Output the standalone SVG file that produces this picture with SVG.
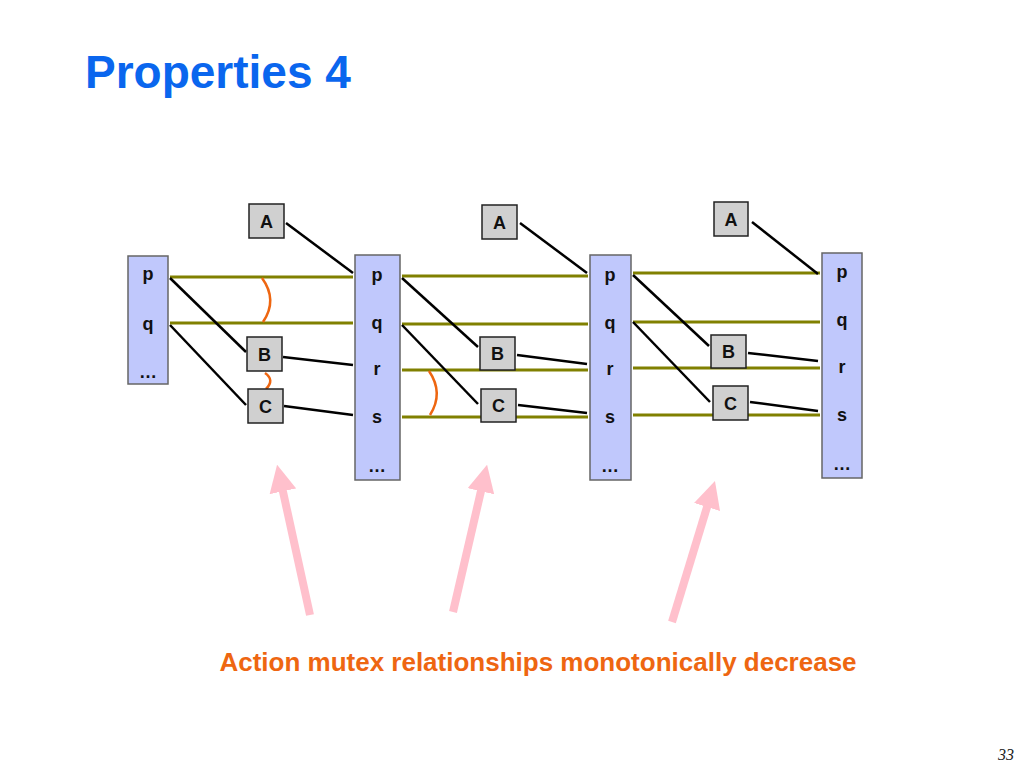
<svg xmlns="http://www.w3.org/2000/svg" width="1024" height="768" viewBox="0 0 1024 768">
<style>
.col{fill:#c0c8fc;stroke:#666;stroke-width:1.5}
.act{fill:#d0d0d0;stroke:#222;stroke-width:1.5}
.t{font-family:"Liberation Sans",Arial,sans-serif;font-weight:bold;font-size:18px;fill:#111;text-anchor:middle}
.ol{stroke:#808000;stroke-width:3}
.bk{stroke:#000;stroke-width:2.5}
.arc{fill:none;stroke:#ee6611;stroke-width:2.5}
.pk{stroke:#ffc0cc;stroke-width:8}
</style>
<defs><marker id="ph" viewBox="0 0 10 10" refX="5" refY="5" markerWidth="3.4" markerHeight="3.4" orient="auto" markerUnits="strokeWidth"><path d="M0,0L10,5L0,10z" fill="#ffc0cc"/></marker></defs>
<text x="85" y="88" font-family="Liberation Sans,Arial,sans-serif" font-weight="bold" font-size="46" fill="#0a66ee">Properties 4</text>
<g id="connectors">
<line class="ol" x1="170" y1="277" x2="353" y2="277"/><line class="ol" x1="170" y1="323" x2="353" y2="323"/>
<line class="ol" x1="402" y1="276" x2="588" y2="276"/><line class="ol" x1="402" y1="324" x2="588" y2="324"/><line class="ol" x1="402" y1="370" x2="588" y2="370"/><line class="ol" x1="402" y1="417" x2="588" y2="417"/>
<line class="ol" x1="633" y1="273" x2="820" y2="273"/><line class="ol" x1="633" y1="322" x2="820" y2="322"/><line class="ol" x1="633" y1="368" x2="820" y2="368"/><line class="ol" x1="633" y1="415" x2="820" y2="415"/>
<line class="bk" x1="286" y1="223" x2="353" y2="273"/><line class="bk" x1="170" y1="278" x2="246" y2="352"/><line class="bk" x1="170" y1="325" x2="246" y2="405"/><line class="bk" x1="283" y1="357" x2="353" y2="365"/><line class="bk" x1="284" y1="406" x2="353" y2="415"/>
<line class="bk" x1="520" y1="223" x2="587" y2="273"/><line class="bk" x1="402" y1="278" x2="478" y2="347"/><line class="bk" x1="402" y1="325" x2="478" y2="404"/><line class="bk" x1="517" y1="355" x2="587" y2="364"/><line class="bk" x1="518" y1="405" x2="587" y2="413"/>
<line class="bk" x1="752" y1="222" x2="818" y2="274"/><line class="bk" x1="633" y1="275" x2="709" y2="346"/><line class="bk" x1="633" y1="322" x2="710" y2="402"/><line class="bk" x1="748" y1="353" x2="818" y2="361"/><line class="bk" x1="750" y1="402" x2="818" y2="411"/>
<path class="arc" d="M148,289Q158,301 147,314"/><path class="arc" d="M262,278Q278,300 263,322"/><path class="arc" d="M265,373Q275,380 266,389"/><path class="arc" d="M377,377Q390,391 378,406"/><path class="arc" d="M429,371Q444,393 430,415"/>
<line class="pk" x1="310" y1="615" x2="280" y2="478" marker-end="url(#ph)"/><line class="pk" x1="453" y1="612" x2="484" y2="478" marker-end="url(#ph)"/><line class="pk" x1="672" y1="622" x2="711" y2="494" marker-end="url(#ph)"/>
</g>
<g id="L0"><rect class="col" x="128" y="256" width="40" height="128"/><text class="t" x="148" y="280">p</text><text class="t" x="148" y="330">q</text><text class="t" x="148" y="378">…</text></g>
<g id="L1"><rect class="col" x="355" y="255" width="45" height="225"/><text class="t" x="377" y="281">p</text><text class="t" x="377" y="329">q</text><text class="t" x="377" y="375">r</text><text class="t" x="377" y="423">s</text><text class="t" x="377" y="472">…</text></g>
<g id="L2"><rect class="col" x="590" y="255" width="41" height="225"/><text class="t" x="610" y="281">p</text><text class="t" x="610" y="329">q</text><text class="t" x="610" y="375">r</text><text class="t" x="610" y="423">s</text><text class="t" x="610" y="472">…</text></g>
<g id="L3"><rect class="col" x="822" y="253" width="40" height="225"/><text class="t" x="842" y="278">p</text><text class="t" x="842" y="326">q</text><text class="t" x="842" y="373">r</text><text class="t" x="842" y="421">s</text><text class="t" x="842" y="470">…</text></g>
<g id="A1"><rect class="act" x="249" y="204" width="35" height="34"/><text class="t" x="266.5" y="228">A</text></g>
<g id="B1"><rect class="act" x="247" y="337" width="35" height="34"/><text class="t" x="264.5" y="361">B</text></g>
<g id="C1"><rect class="act" x="248" y="389" width="35" height="34"/><text class="t" x="265.5" y="413">C</text></g>
<g id="A2"><rect class="act" x="482" y="205" width="35" height="34"/><text class="t" x="499.5" y="229">A</text></g>
<g id="B2"><rect class="act" x="480" y="337" width="35" height="33"/><text class="t" x="497.5" y="360">B</text></g>
<g id="C2"><rect class="act" x="481" y="389" width="35" height="33"/><text class="t" x="498.5" y="412">C</text></g>
<g id="A3"><rect class="act" x="714" y="202" width="34" height="34"/><text class="t" x="731" y="226">A</text></g>
<g id="B3"><rect class="act" x="711" y="335" width="35" height="33"/><text class="t" x="728.5" y="358">B</text></g>
<g id="C3"><rect class="act" x="713" y="386" width="35" height="34"/><text class="t" x="730.5" y="410">C</text></g>
<text x="538" y="671" text-anchor="middle" font-family="Liberation Sans,Arial,sans-serif" font-weight="bold" font-size="26" fill="#ee6611">Action mutex relationships monotonically decrease</text>
<text x="1014" y="760" text-anchor="end" font-family="Liberation Serif,serif" font-style="italic" font-size="16" fill="#222">33</text>
</svg>
